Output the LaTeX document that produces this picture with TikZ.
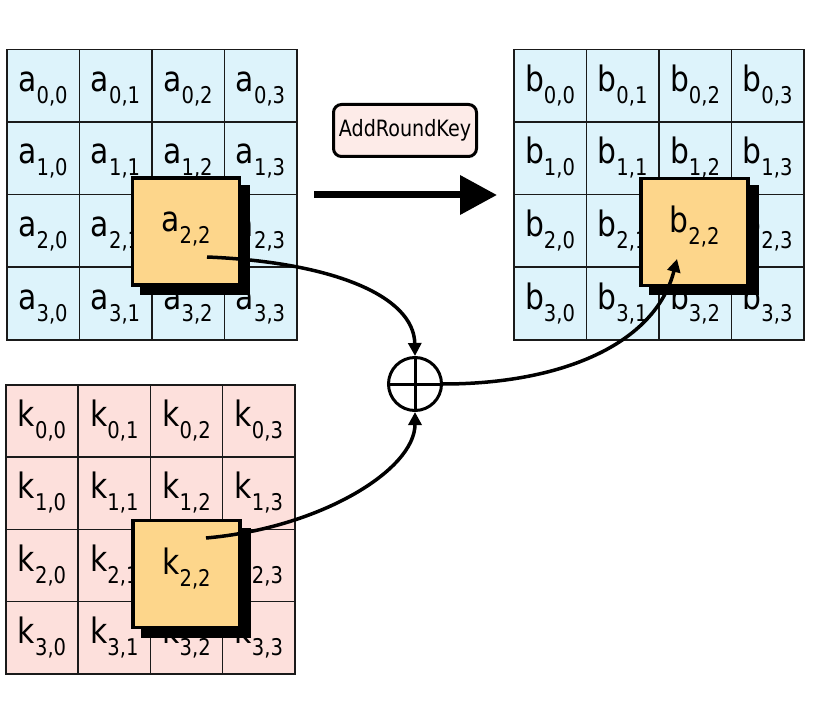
\documentclass[tikz,border=0pt]{standalone}
\usepackage{fontspec}
\setmainfont{DejaVu Sans}[FakeStretch=0.85]
\usetikzlibrary{arrows.meta}
\definecolor{cellblue}{HTML}{DDF3FB}
\definecolor{cellpink}{HTML}{FDE0DC}
\definecolor{boxorange}{HTML}{FDD68B}
\definecolor{keypink}{HTML}{FDEBE8}
\definecolor{gridline}{HTML}{1A1A1A}
\newcommand{\cellt}[3]{{\fontsize{35}{35}\selectfont #1\raisebox{-12pt}{\fontsize{23}{23}\selectfont #2,#3}}}
\begin{document}
\begin{tikzpicture}[x=1pt,y=-1pt,
  cell/.style={draw=gridline, line width=1.5pt, minimum size=72.5pt, inner sep=0pt,
    text height=27pt, text depth=16pt, anchor=north west},
  shadowbox/.style={fill=black, minimum size=110pt, inner sep=0pt},
  hibox/.style={draw=black, line width=3.5pt, fill=boxorange, minimum size=107pt, inner sep=0pt,
    text height=17pt, text depth=16pt},
  conn/.style={line width=3.5pt, -{Triangle[length=13pt,width=13pt]}}
]
\useasboundingbox (0,0) rectangle (835,703);
% grids
\foreach \r in {0,...,3}{
  \foreach \c in {0,...,3}{
    \node[cell, fill=cellblue] (a\r\c) at ({6+72.5*\c},{49+72.5*\r}) {\cellt{a}{\r}{\c}};
    \node[cell, fill=cellblue] (b\r\c) at ({513+72.5*\c},{49+72.5*\r}) {\cellt{b}{\r}{\c}};
    \node[cell, fill=cellpink] (k\r\c) at ({5+72.3*\c},{384+72.3*\r}) {\cellt{k}{\r}{\c}};
  }
}
% highlighted boxes with shadows
\node[shadowbox] (ashadow) at (195,240) {};
\node[hibox] (abox) at (186,231.5) {\cellt{a}{2}{2}};
\node[shadowbox] (bshadow) at (703.5,240.5) {};
\node[hibox] (bbox) at (694.5,232) {\cellt{b}{2}{2}};
\node[shadowbox] (kshadow) at (195.5,582.5) {};
\node[hibox] (kbox) at (186.5,574) {\cellt{k}{2}{2}};
% AddRoundKey label and big arrow
\node[draw, line width=3pt, rounded corners=8pt, fill=keypink, minimum width=143pt,
  minimum height=52pt, inner sep=0pt, font=\fontsize{22.5}{22.5}\selectfont] (ark) at (405,130.5) {AddRoundKey};
\coordinate (bigs) at (314,195);
\coordinate (bige) at (497,195);
\draw[line width=7pt, -{Triangle[length=37pt,width=38pt]}] (bigs) -- (bige);
% XOR
\node[draw, circle, line width=3pt, minimum size=53pt, inner sep=0pt] (xor) at (415,384) {};
\draw[line width=3pt] (xor.north) -- (xor.south);
\draw[line width=3pt] (xor.west) -- (xor.east);
% connectors
\coordinate (astart) at (207,257);
\coordinate (kstart) at (206,538);
\coordinate (bend) at (677,259);
\draw[conn] (astart) .. controls (330,262) and (414,295) .. (xor.north);
\draw[conn] (kstart) .. controls (320,528) and (415,470) .. (xor.south);
\draw[conn] (xor.east) .. controls (560,384) and (655,345) .. (bend);
\end{tikzpicture}
\end{document}
